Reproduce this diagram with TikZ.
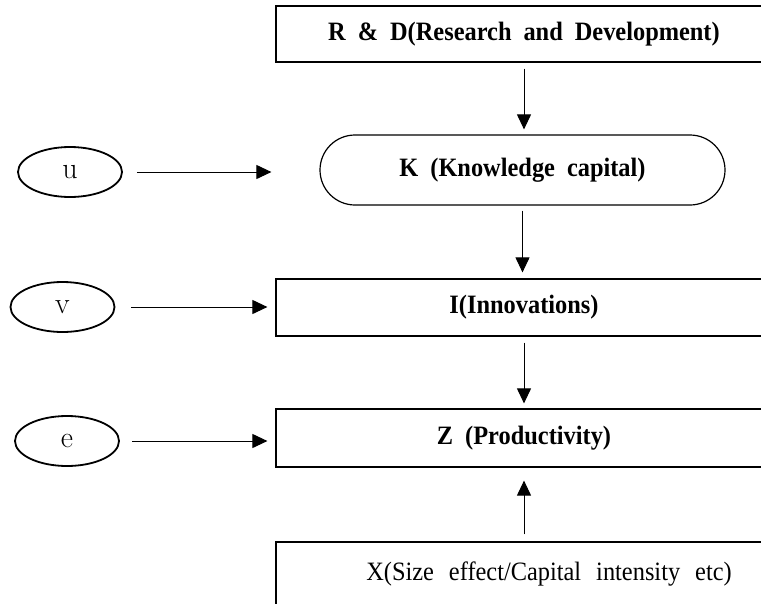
\documentclass[tikz,border=0pt]{standalone}
\usepackage{fontspec}
\newfontfamily\timesfont[FakeStretch=0.92]{Liberation Serif}
\usetikzlibrary{arrows.meta, positioning, shapes.geometric}

\tikzset{
    box/.style={draw, line width=1.2pt, minimum width=496pt, inner sep=0pt,
        font=\timesfont\fontsize{26.5}{30}\selectfont,
        execute at begin node={\spaceskip=15pt plus 2pt\relax}},
    title/.style={box, font=\timesfont\bfseries\fontsize{26.5}{30}\selectfont,
        execute at begin node={\spaceskip=12pt plus 2pt\relax}},
    rbox/.style={title, rounded corners=35pt, minimum width=405pt},
    shock/.style={draw, ellipse, line width=1.8pt, minimum width=104pt,
        minimum height=50pt, inner sep=0pt, font=\fontsize{30}{32}\selectfont},
    flow/.style={-{Triangle[length=15pt,width=14pt]}, line width=1pt},
}

\begin{document}
\begin{tikzpicture}[x=1pt, y=-1pt]

    % =================================================================
    % 1. CANVAS
    % =================================================================
    \useasboundingbox (0,0) rectangle (761,603);

    % =================================================================
    % 2. MAIN CHAIN OF BOXES
    % =================================================================
    \node[title, minimum height=56pt] (rd) at (524,34) {R \& D(Research and Development)};
    \node[rbox, minimum height=70pt] (know) at (522.5,170) {K (Knowledge capital)};
    \node[title, minimum height=57pt] (innov) at (524,307.5) {I(Innovations)};
    \node[title, minimum height=58pt] (prod) at (524,438) {Z (Productivity)};
    % the bottom box runs past the right edge
    \node[box, minimum width=546pt, minimum height=64pt] (size) at (549,574) {X(Size effect/Capital intensity etc)};

    % =================================================================
    % 3. SHOCK TERMS ON THE LEFT
    % =================================================================
    \node[shock] (eu) at (70,172) {u};
    \node[shock] (ev) at (62.5,307) {v};
    \node[shock] (ee) at (67,441) {e};

    % =================================================================
    % 4. ARROWS
    % =================================================================
    % Vertical flow
    \draw[flow, shorten <=6pt, shorten >=5pt] (rd.south) -- (rd.south |- know.north);
    \draw[flow, shorten <=5pt, shorten >=6pt] (know.south) -- (know.south |- innov.north);
    \draw[flow, shorten <=6pt, shorten >=5pt] (innov.south) -- (prod.north);
    \draw[flow, shorten <=7pt, shorten >=13pt] (size.north -| prod.south) -- (prod.south);

    % Shocks into the chain
    \draw[flow, shorten <=14pt, shorten >=48pt] (eu.east) -- (eu.east -| know.west);
    \draw[flow, shorten <=16pt, shorten >=8pt] (ev.east) -- (ev.east -| innov.west);
    \draw[flow, shorten <=12.5pt, shorten >=8pt] (ee.east) -- (ee.east -| prod.west);

\end{tikzpicture}
\end{document}
